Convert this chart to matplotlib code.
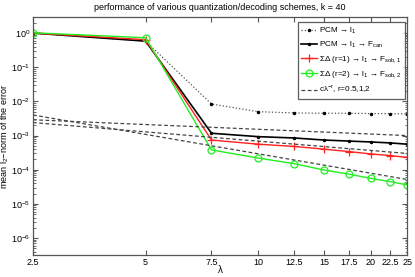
import matplotlib
matplotlib.use("Agg")
import matplotlib.pyplot as plt
from matplotlib.ticker import FixedLocator, FixedFormatter, LogLocator, NullFormatter, NullLocator

plt.rcParams['font.family'] = ['Liberation Sans', 'DejaVu Sans']
plt.rcParams['mathtext.fontset'] = 'custom'
plt.rcParams['mathtext.rm'] = 'Liberation Sans'
plt.rcParams['mathtext.it'] = 'Liberation Sans'

lam = [2.5, 5, 7.5, 10, 12.5, 15, 17.5, 20, 22.5, 25]
pcm_l1 = [1.0, 0.58, 8.4e-3, 5.0e-3, 4.6e-3, 4.5e-3, 4.5e-3, 4.4e-3, 4.4e-3, 4.3e-3]
pcm_fcan = [1.0, 0.58, 1.17e-3, 9.3e-4, 8.5e-4, 7.4e-4, 6.9e-4, 6.5e-4, 6.1e-4, 5.6e-4]
sd1 = [1.0, 0.64, 7.4e-4, 5.6e-4, 4.8e-4, 4.0e-4, 3.4e-4, 2.9e-4, 2.6e-4, 2.3e-4]
sd2 = [1.02, 0.73, 3.8e-4, 2.2e-4, 1.5e-4, 9.8e-5, 7.4e-5, 5.6e-5, 4.5e-5, 3.6e-5]

ref_lam = [2.5, 25]
ref_r05 = [2.9e-3, 1.0e-3]
ref_r1 = [2.4e-3, 3.0e-4]
ref_r2 = [4.0e-3, 5.2e-5]

xtick_vals = [2.5, 5, 7.5, 10, 12.5, 15, 17.5, 20, 22.5, 25]
xtick_labels = ['2.5', '5', '7.5', '10', '12.5', '15', '17.5', '20', '22.5', '25']

fig = plt.figure(figsize=(4.15, 2.77), dpi=100)
ax = fig.add_axes([0.0795, 0.0794, 0.9015, 0.8592])

gray = '#444444'
ax.plot(lam, pcm_l1, linestyle=':', color='#555555', lw=0.9, marker='.', ms=3,
        markerfacecolor='black', markeredgecolor='black', label='PCM → l$_1$')
ax.plot(lam, pcm_fcan, '-', color='black', lw=1.2, marker='.', ms=3,
        label='PCM → l$_1$ → F$_{\\rm can}$')
ax.plot(lam, sd1, '-', color='#ff2020', lw=1.0, marker='+', ms=6, mew=0.9,
        label='ΣΔ (r=1) → l$_1$ → F$_{\\rm sob,1}$')
ax.plot(lam, sd2, '-', color='#22ee22', lw=1.0, marker='o', ms=5, mew=0.9,
        markerfacecolor='none', label='ΣΔ (r=2) → l$_1$ → F$_{\\rm sob,2}$')
ax.plot(ref_lam, ref_r05, '--', color=gray, lw=0.9, dashes=(3, 2),
        label='cλ$^{-r}$, r=0.5,1,2')
ax.plot(ref_lam, ref_r1, '--', color=gray, lw=0.9, dashes=(3, 2))
ax.plot(ref_lam, ref_r2, '--', color=gray, lw=0.9, dashes=(3, 2))

ax.set_xscale('log')
ax.set_yscale('log')
ax.set_xlim(2.5, 25)
ax.set_ylim(3.2e-7, 2.95)
ax.xaxis.set_major_locator(FixedLocator(xtick_vals))
ax.xaxis.set_major_formatter(FixedFormatter(xtick_labels))
ax.xaxis.set_minor_locator(NullLocator())
ax.yaxis.set_major_locator(FixedLocator([1e-6, 1e-5, 1e-4, 1e-3, 1e-2, 1e-1, 1]))
ax.yaxis.set_minor_locator(LogLocator(base=10, subs=range(2, 10), numticks=20))
ax.yaxis.set_minor_formatter(NullFormatter())

ax.tick_params(which='both', direction='in', top=True, right=True, labelsize=6.5,
               color='#555555', pad=2)
ax.tick_params(which='major', length=3.5)
ax.tick_params(which='minor', length=1.8)
for s in ax.spines.values():
    s.set_color('#555555')
    s.set_linewidth(0.9)

ax.set_title('performance of various quantization/decoding schemes, k = 40', fontsize=6.5, pad=5)
ax.set_xlabel('λ', fontsize=7, labelpad=-1)
ax.set_ylabel('mean l$_2$−norm of the error', fontsize=6.5, labelpad=0)
ax.yaxis.set_label_coords(-0.058, 0.5)

leg = ax.legend(loc='upper right', bbox_to_anchor=(0.995, 0.98), fontsize=5.9,
                frameon=True, fancybox=False, edgecolor='#333333', handlelength=1.9,
                handletextpad=0.3, borderpad=0.45, labelspacing=0.5, borderaxespad=0)
leg.get_frame().set_linewidth(0.9)

fig.savefig('out.png', dpi=100)
